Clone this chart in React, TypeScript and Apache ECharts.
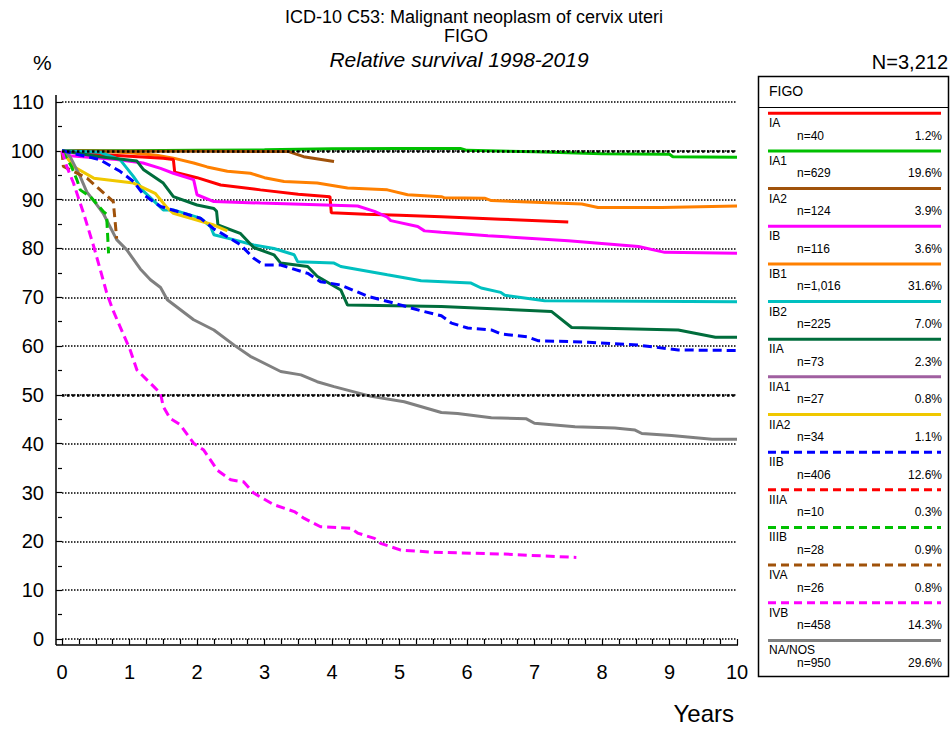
import React, { useEffect, useRef } from "react";
import * as echarts from "echarts";

// ---------- data ----------
const xTicks = [0, 1, 2, 3, 4, 5, 6, 7, 8, 9, 10];
const yTicks = [0, 10, 20, 30, 40, 50, 60, 70, 80, 90, 100, 110];

const legendNames = ["IA", "IA1", "IA2", "IB", "IB1", "IB2", "IIA", "IIA1", "IIA2", "IIB", "IIIA", "IIIB", "IVA", "IVB", "NA/NOS"];
const legendCounts = ["n=40", "n=629", "n=124", "n=116", "n=1,016", "n=225", "n=73", "n=27", "n=34", "n=406", "n=10", "n=28", "n=26", "n=458", "n=950"];
const legendPcts = ["1.2%", "19.6%", "3.9%", "3.6%", "31.6%", "7.0%", "2.3%", "0.8%", "1.1%", "12.6%", "0.3%", "0.9%", "0.8%", "14.3%", "29.6%"];
const legendColors = ["#ff0000", "#00c000", "#a0520a", "#ff00ff", "#ff8000", "#00c0c0", "#006d3c", "#a05fa0", "#f0c800", "#0000ff", "#ff0000", "#00c000", "#a0520a", "#ff00ff", "#808080"];
const legendDashed = [false, false, false, false, false, false, false, false, false, true, true, true, true, true, false];

const IA = [[0,100],[0.5,99.3],[1.0,98.9],[1.5,98.5],[1.65,98.2],[1.67,95.6],[2.0,94.5],[2.35,93.0],[2.94,92.0],[3.5,91.1],[3.97,90.6],[3.99,87.3],[4.5,87.0],[5.0,86.8],[5.62,86.5],[6.5,86.0],[7.5,85.4]];
const IA1 = [[0,100],[1,100],[2,100.1],[3,100.2],[4,100.4],[5,100.5],[5.9,100.5],[6.0,100.1],[7.0,99.8],[8.0,99.4],[9.0,99.3],[9.05,98.8],[10,98.7]];
const IA2 = [[0,100],[1,99.9],[2,99.9],[3.36,99.85],[3.58,98.8],[4.03,97.8]];
const IB = [[0,100],[0.12,99.0],[0.81,98.2],[1.2,97.5],[1.46,96.4],[1.65,95.4],[1.95,94.1],[2.0,91.0],[2.25,89.6],[2.94,89.3],[4.38,88.7],[4.63,87.6],[4.82,86.4],[4.87,85.7],[5.27,84.5],[5.37,83.6],[5.62,83.3],[6.31,82.6],[7.5,81.6],[8.54,80.4],[8.93,79.2],[10,79.0]];
const IB1 = [[0,100],[0.5,99.9],[1.0,99.6],[1.4,99.1],[1.65,98.5],[1.95,97.5],[2.15,96.7],[2.45,95.8],[2.79,95.4],[3.0,94.5],[3.29,93.7],[3.78,93.4],[4.23,92.4],[4.82,92.0],[5.12,91.0],[5.62,90.6],[5.66,90.4],[6.26,90.3],[6.36,89.8],[7.7,89.1],[7.94,88.4],[8.89,88.4],[10,88.7]];
const IB2 = [[0,100],[0.56,99.7],[0.86,98.2],[1.06,94.7],[1.21,91.7],[1.5,87.9],[1.65,87.9],[2.05,86.2],[2.2,84.5],[2.25,82.8],[2.54,81.8],[2.84,80.7],[3.14,80.0],[3.44,78.7],[3.49,77.3],[4.03,77.0],[4.13,76.3],[4.82,74.6],[5.32,73.4],[6.06,72.9],[6.21,71.9],[6.5,71.0],[6.56,70.4],[7.15,69.3],[10,69.1]];
const IIA = [[0,100],[0.56,98.8],[1.11,97.9],[1.21,96.1],[1.5,93.4],[1.65,90.6],[2.0,88.9],[2.25,88.2],[2.29,87.6],[2.31,84.8],[2.64,83.1],[2.84,80.2],[3.14,78.7],[3.24,77.0],[3.64,76.3],[3.78,74.3],[4.13,71.5],[4.23,68.4],[5.62,68.1],[7.25,67.1],[7.55,63.8],[9.13,63.3],[9.68,61.8],[10,61.8]];
const IIA1: number[][] = [];
const IIA2 = [[0,100],[0.17,96.8],[0.47,94.4],[1.06,93.4],[1.38,91.3],[1.56,88.3],[1.65,87.2],[2.25,84.8],[2.45,83.6]];
const IIB = [[0,100],[0.56,98.2],[0.86,95.8],[1.06,93.7],[1.21,91.0],[1.46,88.6],[2.05,86.2],[2.25,84.0],[2.4,82.8],[2.64,80.8],[2.84,78.0],[2.99,76.6],[3.24,76.6],[3.64,74.9],[3.83,73.2],[4.13,72.5],[4.53,70.2],[4.92,68.8],[5.3,67.3],[5.62,66.2],[5.77,64.7],[6.01,63.7],[6.36,63.3],[6.5,62.5],[6.9,61.9],[7.05,61.1],[7.8,60.8],[8.54,60.2],[9.13,59.2],[10,59.1]];
const IIIA: number[][] = [];
const IIIB = [[0,100],[0.14,96.8],[0.22,94.1],[0.27,92.0],[0.42,90.6],[0.61,87.6],[0.66,87.0],[0.69,79.0]];
const IVA = [[0,100],[0.02,96.8],[0.37,94.4],[0.76,89.6],[0.81,82.0]];
const IVB = [[0,100],[0.07,96.8],[0.17,93.4],[0.32,87.2],[0.47,80.4],[0.56,76.0],[0.66,71.0],[0.75,67.5],[0.86,64.0],[1.01,59.2],[1.11,55.1],[1.36,51.7],[1.46,50.3],[1.5,47.6],[1.6,45.2],[1.75,43.9],[1.95,40.1],[2.1,38.7],[2.3,34.6],[2.5,32.6],[2.69,32.2],[2.84,29.9],[3.14,27.5],[3.44,26.1],[3.59,24.7],[3.83,23.0],[4.28,22.7],[4.38,21.7],[4.63,20.6],[4.72,19.6],[5.02,18.2],[5.47,17.8],[6.56,17.4],[7.15,17.0],[7.62,16.7]];
const NANOS = [[0,100],[0.12,98.8],[0.27,94.7],[0.37,91.5],[0.47,89.8],[0.61,87.2],[0.71,84.5],[0.81,81.8],[0.96,79.7],[1.16,75.8],[1.31,73.6],[1.46,72.0],[1.56,69.5],[1.95,65.4],[2.25,63.3],[2.55,60.2],[2.79,57.9],[3.24,54.8],[3.54,54.1],[3.78,52.7],[4.03,51.7],[4.58,49.7],[5.07,48.6],[5.62,46.4],[5.86,46.2],[6.36,45.3],[6.88,45.1],[7.0,44.2],[7.6,43.5],[8.19,43.2],[8.49,42.8],[8.59,42.1],[9.03,41.7],[9.63,40.9],[10,40.9]];

const seriesData = [IA, IA1, IA2, IB, IB1, IB2, IIA, IIA1, IIA2, IIB, IIIA, IIIB, IVA, IVB, NANOS];
// drawing order (index into the lists above)
const drawOrder = [4, 1, 2, 0, 3, 5, 6, 7, 8, 14, 9, 10, 11, 12, 13];

const FONT = "'Liberation Sans', Arial, sans-serif";

export default function App() {
  const ref = useRef<HTMLDivElement>(null);
  useEffect(() => {
    if (!ref.current) return;
    const chart = echarts.init(ref.current, undefined, { renderer: "svg" });

    const series: any[] = drawOrder.map((i) => ({
      type: "line",
      name: legendNames[i],
      data: seriesData[i],
      showSymbol: false,
      symbol: "none",
      silent: true,
      z: 3,
      lineStyle: {
        color: legendColors[i],
        width: 3,
        type: legendDashed[i] ? [9, 5] : "solid",
      },
    }));
    series.unshift({
      type: "line",
      data: [],
      silent: true,
      z: 1,
      markLine: {
        silent: true,
        symbol: "none",
        label: { show: false },
        lineStyle: { color: "#000", width: 2.5, type: [2.5, 2.5] },
        data: [{ yAxis: 50 }, { yAxis: 100 }],
      },
    });

    const legendGraphics: any[] = [
      { type: "rect", shape: { x: 758.5, y: 76.5, width: 190, height: 600 }, style: { fill: "#fff", stroke: "#000", lineWidth: 1.5 }, z: 0 },
      { type: "line", shape: { x1: 758.5, y1: 107.5, x2: 948.5, y2: 107.5 }, style: { stroke: "#000", lineWidth: 1.2 }, z: 1 },
      { type: "text", x: 769, y: 90.5, style: { text: "FIGO", font: `14px ${FONT}`, fill: "#000", verticalAlign: "middle" }, z: 1 },
    ];
    legendNames.forEach((name, i) => {
      const ly = 113.3 + 37.65 * i;
      legendGraphics.push({
        type: "line",
        shape: { x1: 768, y1: ly, x2: 941, y2: ly },
        style: { stroke: legendColors[i], lineWidth: 3, lineDash: legendDashed[i] ? [8, 5] : null },
        z: 1,
      });
      legendGraphics.push({ type: "text", x: 769, y: ly + 10, style: { text: name, font: `12px ${FONT}`, fill: "#000", verticalAlign: "middle" }, z: 1 });
      legendGraphics.push({ type: "text", x: 797, y: ly + 22.5, style: { text: legendCounts[i], font: `12px ${FONT}`, fill: "#000", verticalAlign: "middle" }, z: 1 });
      legendGraphics.push({ type: "text", x: 942, y: ly + 22.5, style: { text: legendPcts[i], font: `12px ${FONT}`, fill: "#000", align: "right", verticalAlign: "middle" }, z: 1 });
    });

    const option: any = {
      animation: false,
      backgroundColor: "#fff",
      textStyle: { fontFamily: FONT },
      grid: { left: 62, right: 214, top: 102, bottom: 90, containLabel: false },
      xAxis: {
        type: "value",
        min: xTicks[0],
        max: xTicks[xTicks.length - 1],
        interval: 1,
        offset: 6,
        axisLine: { show: false },
        axisTick: { show: true, length: 6, lineStyle: { color: "#000", width: 1.2 } },
        minorTick: { show: true, splitNumber: 4, length: 5, lineStyle: { color: "#000", width: 1.2 } },
        axisLabel: { fontSize: 20, color: "#000", margin: 17, fontFamily: FONT },
        splitLine: { show: false },
      },
      yAxis: {
        type: "value",
        min: yTicks[0],
        max: yTicks[yTicks.length - 1],
        interval: 10,
        offset: 6,
        axisLine: { show: false },
        axisTick: { show: true, length: 6, lineStyle: { color: "#000", width: 1.2 } },
        minorTick: { show: true, splitNumber: 2, length: 4, lineStyle: { color: "#000", width: 1.2 } },
        axisLabel: { fontSize: 20, color: "#000", margin: 12, fontFamily: FONT },
        splitLine: { show: true, lineStyle: { color: "#000", width: 1.5, type: [1.5, 1.5] } },
      },
      graphic: [
        { type: "line", shape: { x1: 56, y1: 95, x2: 56, y2: 645 }, style: { stroke: "#000", lineWidth: 1.5 }, z: 5 },
        { type: "line", shape: { x1: 56, y1: 645, x2: 738, y2: 645 }, style: { stroke: "#000", lineWidth: 1.5 }, z: 5 },
        { type: "text", x: 474, y: 16.5, style: { text: "ICD-10 C53: Malignant neoplasm of cervix uteri", font: `18px ${FONT}`, fill: "#000", align: "center", verticalAlign: "middle" } },
        { type: "text", x: 466, y: 36, style: { text: "FIGO", font: `18px ${FONT}`, fill: "#000", align: "center", verticalAlign: "middle" } },
        { type: "text", x: 459, y: 59, style: { text: "Relative survival 1998-2019", font: `italic 21px ${FONT}`, fill: "#000", align: "center", verticalAlign: "middle" } },
        { type: "text", x: 33, y: 62, style: { text: "%", font: `21px ${FONT}`, fill: "#000", verticalAlign: "middle" } },
        { type: "text", x: 948, y: 62, style: { text: "N=3,212", font: `20px ${FONT}`, fill: "#000", align: "right", verticalAlign: "middle" } },
        { type: "text", x: 734, y: 713, style: { text: "Years", font: `24px ${FONT}`, fill: "#000", align: "right", verticalAlign: "middle" } },
        ...legendGraphics,
      ],
      series,
    };
    chart.setOption(option);
    return () => chart.dispose();
  }, []);
  return <div ref={ref} style={{ position: "absolute", left: 0, top: 0, width: 951, height: 729 }} />;
}
